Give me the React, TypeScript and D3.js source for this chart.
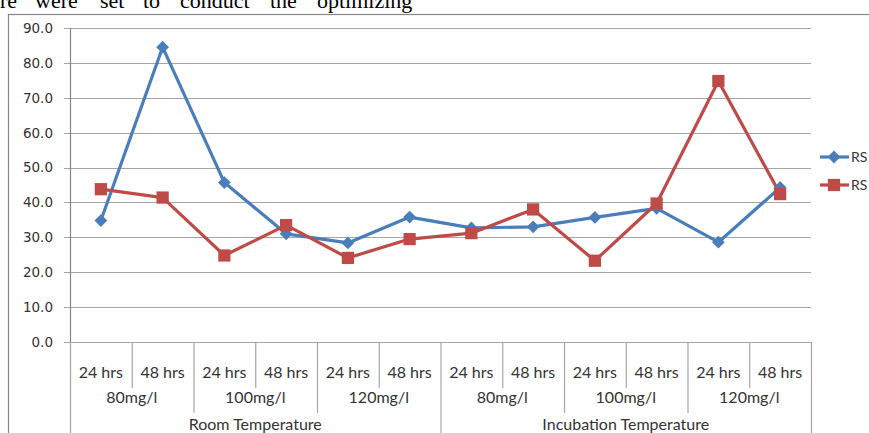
import React from "react";
import * as d3 from "d3";

const hours = ["24 hrs", "48 hrs", "24 hrs", "48 hrs", "24 hrs", "48 hrs", "24 hrs", "48 hrs", "24 hrs", "48 hrs", "24 hrs", "48 hrs"];
const concentrations = ["80mg/l", "100mg/l", "120mg/l", "80mg/l", "100mg/l", "120mg/l"];
const temperatures = ["Room Temperature", "Incubation Temperature"];
const seriesNames = ["RS", "RS"];
const seriesBlue = [34.8, 84.5, 45.7, 31.0, 28.4, 35.8, 32.7, 33.0, 35.7, 38.3, 28.6, 44.3];
const seriesRed = [43.8, 41.4, 24.8, 33.5, 24.1, 29.5, 31.2, 38.0, 23.3, 39.7, 74.8, 42.4];
const yTicks = [0, 10, 20, 30, 40, 50, 60, 70, 80, 90];
const topWords = [
  { w: "re", x: 0 },
  { w: "were", x: 35 },
  { w: "set", x: 100 },
  { w: "to", x: 143 },
  { w: "conduct", x: 180 },
  { w: "the", x: 270 },
  { w: "optimizing", x: 317 },
];

const W = 869;
const H = 433;
const left = 70;
const right = 811;
const top = 28;
const bottom = 342;
const blue = "#4A7EBB";
const red = "#BE4B48";
const labelFont = "Lato, 'Open Sans', sans-serif";

export default function App() {
  const idx = hours.map((_, i) => i);
  const x = d3.scaleBand<number>().domain(idx).range([left, right]).padding(0);
  const bw = x.bandwidth();
  const cx = (i: number) => (x(i) as number) + bw / 2;
  const y = d3.scaleLinear().domain([0, 90]).range([bottom, top]);
  const line = d3
    .line<number>()
    .x((_, i) => cx(i))
    .y((d) => y(d));
  const diamond = d3.symbol().type(d3.symbolSquare).size(82)();
  const square = d3.symbol().type(d3.symbolSquare).size(150)();

  return (
    <svg
      width={W}
      height={H}
      style={{ position: "absolute", left: 0, top: 0, background: "#fff" }}
    >
      {topWords.map((t, i) => (
        <text key={i} x={t.x} y={8} fontFamily="'Liberation Serif', 'Times New Roman', serif" fontSize={22} fill="#000">
          {t.w}
        </text>
      ))}
      <rect x={8.5} y={14.5} width={W + 20} height={H + 20} fill="none" stroke="#878787" strokeWidth={1.2} />
      {yTicks.map((t) => (
        <g key={t}>
          <line x1={64} x2={right} y1={Math.round(y(t)) + 0.5} y2={Math.round(y(t)) + 0.5} stroke="#a6a6a6" strokeWidth={1.2} />
          <text x={53} y={y(t)} dy="0.36em" textAnchor="end" fontFamily="'DejaVu Sans', Verdana, sans-serif" fontSize={13.5} fill="#333">
            {t.toFixed(1)}
          </text>
        </g>
      ))}
      <line x1={left + 0.5} x2={left + 0.5} y1={top} y2={bottom} stroke="#868686" strokeWidth={1.2} />
      {d3.range(0, 13).map((k) => {
        const xx = k === 12 ? right : (x(k) as number);
        let y2 = 388;
        if (k % 2 === 0) y2 = 413;
        if (k % 6 === 0) y2 = H + 5;
        return <line key={k} x1={xx + 0.5} x2={xx + 0.5} y1={bottom} y2={y2} stroke="#a6a6a6" strokeWidth={1.2} />;
      })}
      {hours.map((h, i) => (
        <text key={i} x={cx(i)} y={378} textAnchor="middle" fontFamily={labelFont} fontSize={16} fill="#333">
          {h}
        </text>
      ))}
      {concentrations.map((c, j) => (
        <text key={j} x={((x(j * 2) as number) + (x(j * 2 + 1) as number) + bw) / 2} y={403} textAnchor="middle" fontFamily={labelFont} fontSize={16} fill="#333">
          {c}
        </text>
      ))}
      {temperatures.map((t, j) => (
        <text key={j} x={((x(j * 6) as number) + (x(j * 6 + 5) as number) + bw) / 2} y={430} textAnchor="middle" fontFamily={labelFont} fontSize={16} fill="#333">
          {t}
        </text>
      ))}
      <path d={line(seriesBlue) || ""} fill="none" stroke={blue} strokeWidth={3.2} strokeLinejoin="round" />
      <path d={line(seriesRed) || ""} fill="none" stroke={red} strokeWidth={3.2} strokeLinejoin="round" />
      {seriesBlue.map((v, i) => (
        <path key={"b" + i} d={diamond || ""} transform={`translate(${cx(i)},${y(v)}) rotate(45)`} fill={blue} />
      ))}
      {seriesRed.map((v, i) => (
        <path key={"r" + i} d={square || ""} transform={`translate(${cx(i)},${y(v)})`} fill={red} />
      ))}
      {[blue, red].map((c, i) => {
        const ly = 157 + i * 28;
        return (
          <g key={i}>
            <line x1={820} x2={849} y1={ly} y2={ly} stroke={c} strokeWidth={3.2} />
            <path d={(i === 0 ? diamond : square) || ""} transform={`translate(834,${ly})${i === 0 ? " rotate(45)" : ""}`} fill={c} />
            <text x={851} y={ly} dy="0.36em" fontFamily={labelFont} fontSize={14} fill="#333">
              {seriesNames[i]}
            </text>
          </g>
        );
      })}
    </svg>
  );
}
